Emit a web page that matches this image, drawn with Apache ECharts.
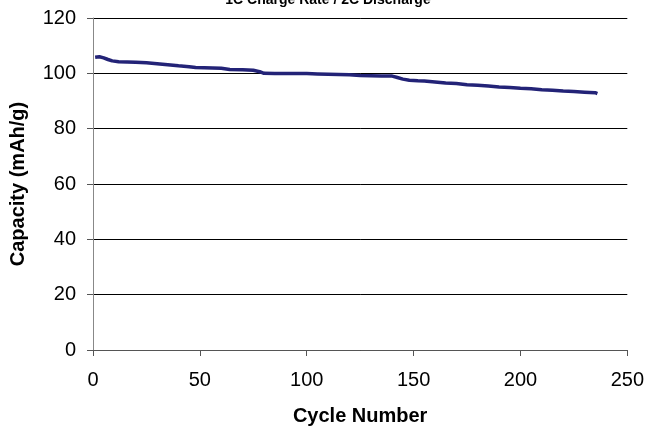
<!DOCTYPE html>
<html>
<head>
<meta charset="utf-8">
<script src="https://cdn.jsdelivr.net/npm/echarts@6/dist/echarts.min.js"></script>
<style>
  html, body { margin: 0; padding: 0; background: #fff; }
  #chart { width: 647px; height: 431px; }
</style>
</head>
<body>
<div id="chart"></div>
<script>
// cycle number vs capacity (mAh/g)
var cycles = [1, 3, 5, 7, 9, 12, 16, 20, 25, 30, 35, 40, 45, 48, 52, 56, 60, 64, 70, 75, 78, 80,
  85, 90, 95, 100, 105, 110, 115, 120, 125, 130, 135, 140, 142, 145, 148, 152, 155, 160, 165,
  170, 175, 180, 185, 190, 195, 200, 205, 210, 215, 220, 225, 230, 235, 236];
var capacity = [105.8, 106.0, 105.6, 105.0, 104.5, 104.2, 104.1, 104.0, 103.8, 103.5, 103.1, 102.7,
  102.4, 102.1, 102.0, 101.9, 101.8, 101.4, 101.3, 101.1, 100.6, 100.0, 99.9, 99.9, 99.9, 99.9,
  99.8, 99.7, 99.6, 99.5, 99.2, 99.1, 99.0, 99.0, 98.6, 97.9, 97.5, 97.3, 97.2, 96.9, 96.5, 96.3,
  95.9, 95.7, 95.4, 95.1, 94.9, 94.6, 94.4, 94.1, 93.9, 93.6, 93.4, 93.2, 93.0, 92.7];
var xTicks = [0, 50, 100, 150, 200, 250];
var yTicks = [0, 20, 40, 60, 80, 100, 120];

var chart = echarts.init(document.getElementById('chart'));
var points = cycles.map(function (c, i) { return [c, capacity[i]]; });
var font = 'Liberation Sans, Arial, sans-serif';

var option = {
  animation: false,
  title: {
    text: '1C Charge Rate / 2C Discharge',
    left: 323,
    textAlign: 'center',
    top: -12,
    textStyle: { fontFamily: font, fontSize: 14, fontWeight: 'bold', color: '#000' }
  },
  grid: { left: 93, right: 19, top: 18, bottom: 77 },
  xAxis: {
    type: 'value',
    min: xTicks[0],
    max: xTicks[xTicks.length - 1],
    interval: 50,
    name: 'Cycle Number',
    nameLocation: 'middle',
    nameGap: 56,
    nameTextStyle: { fontFamily: font, fontSize: 20, fontWeight: 'bold', color: '#000' },
    axisLine: { lineStyle: { color: '#555', width: 1 } },
    axisTick: { show: true, length: 6, lineStyle: { color: '#555' } },
    axisLabel: { fontFamily: font, fontSize: 20, color: '#000', margin: 20 },
    splitLine: { show: false }
  },
  yAxis: {
    type: 'value',
    min: yTicks[0],
    max: yTicks[yTicks.length - 1],
    interval: 20,
    name: 'Capacity (mAh/g)',
    nameLocation: 'middle',
    nameGap: 65,
    nameTextStyle: { fontFamily: font, fontSize: 20, fontWeight: 'bold', color: '#000' },
    axisLine: { show: true, lineStyle: { color: '#888', width: 1 } },
    axisTick: { show: true, length: 6, lineStyle: { color: '#555' } },
    axisLabel: { fontFamily: font, fontSize: 20, color: '#000', margin: 17 },
    splitLine: { show: true, lineStyle: { color: '#000', width: 1 } }
  },
  series: [{
    type: 'line',
    data: points,
    showSymbol: false,
    lineStyle: { color: '#232377', width: 3.5 },
    itemStyle: { color: '#232377' }
  }]
};
chart.setOption(option);
</script>
</body>
</html>
